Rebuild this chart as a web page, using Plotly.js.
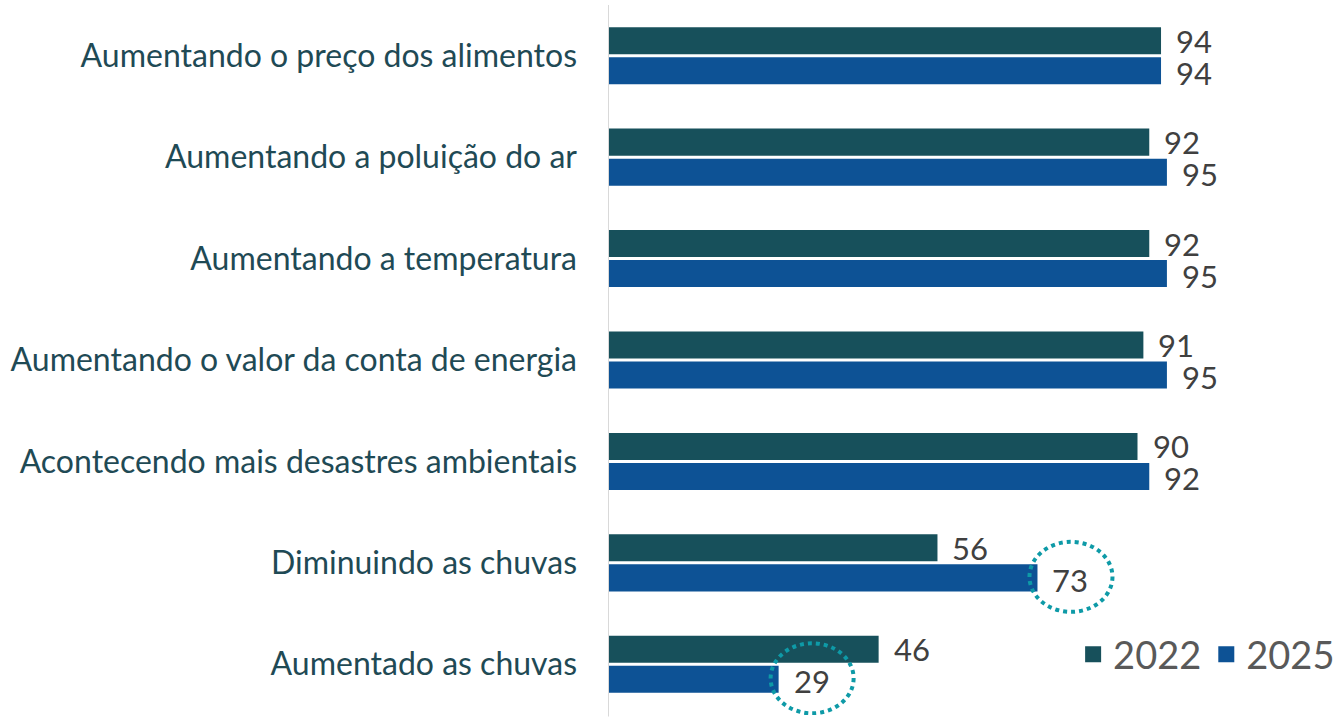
<!DOCTYPE html>
<html>
<head>
<meta charset="utf-8">
<script src="https://cdn.plot.ly/plotly-3.0.1.min.js"></script>
<style>
  html, body {margin: 0; padding: 0; background: #fff;}
  #chart {width: 1344px; height: 719px;}
</style>
</head>
<body>
<div id="chart"></div>
<script>
const CATEGORIES = [
  'Aumentando o preço dos alimentos',
  'Aumentando a poluição do ar',
  'Aumentando a temperatura',
  'Aumentando o valor da conta de energia',
  'Acontecendo mais desastres ambientais',
  'Diminuindo as chuvas',
  'Aumentado as chuvas',
];
const VALUES_2022 = [94, 92, 92, 91, 90, 56, 46];
const VALUES_2025 = [94, 95, 95, 95, 92, 73, 29];
const HIGHLIGHT_2025 = ['Diminuindo as chuvas', 'Aumentado as chuvas'];

const COLOR_2022 = '#17505B';
const COLOR_2025 = '#0D5295';
const FONT = {family: 'Lato, "Open Sans", sans-serif', size: 31, color: '#404040'};

const traces = [
  {
    name: '2022', type: 'bar', orientation: 'h',
    y: CATEGORIES, x: VALUES_2022,
    marker: {color: COLOR_2022, line: {width: 0}},
    showlegend: false, hoverinfo: 'x+y',
  },
  {
    name: '2025', type: 'bar', orientation: 'h',
    y: CATEGORIES, x: VALUES_2025,
    marker: {color: COLOR_2025, line: {width: 0}},
    showlegend: false, hoverinfo: 'x+y',
  },
  // legend-only entries, so the squares can be larger than bar swatches
  {name: '2022', type: 'scatter', mode: 'markers', x: [null], y: [null],
   marker: {symbol: 'square', size: 20, color: COLOR_2022}},
  {name: '2025', type: 'scatter', mode: 'markers', x: [null], y: [null],
   marker: {symbol: 'square', size: 20, color: COLOR_2025}},
];

// value labels next to each bar end
const annotations = [];
CATEGORIES.forEach((c, i) => {
  annotations.push({x: VALUES_2022[i], y: c, text: String(VALUES_2022[i]),
    xanchor: 'left', showarrow: false, xshift: 13, yshift: 15, font: FONT});
  annotations.push({x: VALUES_2025[i], y: c, text: String(VALUES_2025[i]),
    xanchor: 'left', showarrow: false, xshift: 13, yshift: -17, font: FONT});
});

// dotted circles round the highlighted 2025 values
const shapes = HIGHLIGHT_2025.map(c => {
  const v = VALUES_2025[CATEGORIES.indexOf(c)];
  return {
    type: 'circle', xref: 'x', yref: 'y',
    xsizemode: 'pixel', ysizemode: 'pixel',
    xanchor: v, yanchor: c,
    x0: -8, x1: 75, y0: -49, y1: 21,
    line: {color: '#0E9AA7', width: 4, dash: 'dot'},
  };
});

const layout = {
  width: 1344, height: 719,
  margin: {l: 608, r: 28, t: 5, b: 4},
  paper_bgcolor: '#fff', plot_bgcolor: '#fff',
  barmode: 'group', bargap: 0.408, bargroupgap: 0.1,
  font: FONT,
  xaxis: {range: [0, 120], visible: false, fixedrange: true},
  yaxis: {
    autorange: 'reversed', showgrid: false, zeroline: false,
    showline: false, ticks: '', ticklabelstandoff: 30,
    tickfont: {family: FONT.family, size: 32, color: '#1F4A55'},
    fixedrange: true,
  },
  showlegend: true,
  legend: {
    orientation: 'h', x: 1.037, xanchor: 'right', y: 0.085, yanchor: 'middle',
    font: {family: FONT.family, size: 38, color: '#595959'},
    itemwidth: 30, tracegroupgap: 0, bgcolor: 'rgba(0,0,0,0)',
  },
  annotations: annotations,
  shapes: shapes.concat([{
    type: 'line', xref: 'x', yref: 'paper', x0: 0, x1: 0, y0: -0.002, y1: 1,
    line: {color: '#D9D9D9', width: 2},
  }]),
};

Plotly.newPlot('chart', traces, layout, {displayModeBar: false, staticPlot: true});
</script>
</body>
</html>
